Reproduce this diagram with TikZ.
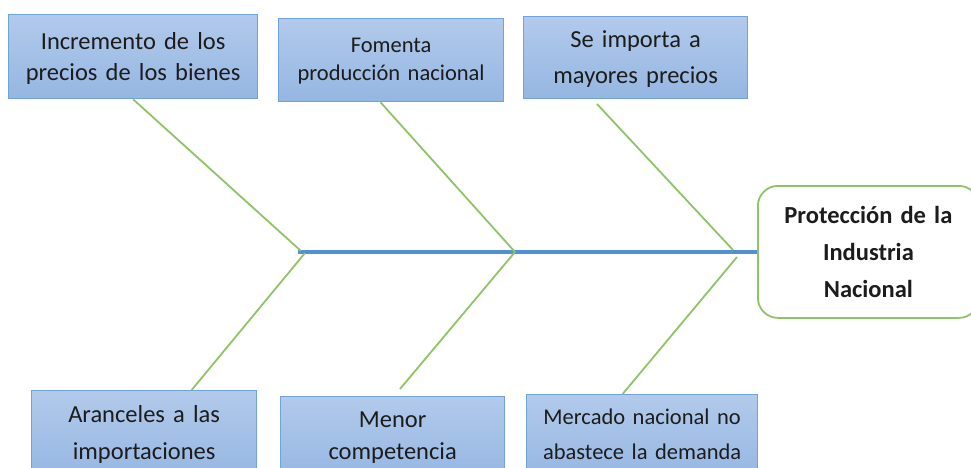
\documentclass[tikz,border=0pt]{standalone}
\usepackage{fontspec}
\setmainfont{Carlito}
\usetikzlibrary{calc}
\definecolor{boxtop}{RGB}{178,202,235}
\definecolor{boxbot}{RGB}{149,182,226}
\definecolor{boxedge}{RGB}{112,163,220}
\definecolor{bone}{RGB}{142,196,102}
\definecolor{spinecol}{RGB}{84,142,212}
\definecolor{txt}{RGB}{28,28,28}
\tikzset{
  causebox/.style={draw=boxedge, line width=1.3pt, top color=boxtop, bottom color=boxbot,
    inner sep=0pt, anchor=north west, align=center, text=txt, text height=0pt},
  effectbox/.style={draw=bone, line width=1.8pt, fill=white, rounded corners=20pt,
    inner sep=0pt, anchor=north west, align=center, text=txt, text height=0pt},
  boneline/.style={draw=bone, line width=1.8pt},
  spineline/.style={draw=spinecol, line width=3.2pt}
}
\begin{document}
\begin{tikzpicture}[x=1pt,y=-1pt]
\useasboundingbox (0,0) rectangle (971,468);
\clip (0,0) rectangle (971,468);
% top causes
\node[causebox, minimum width=249pt, minimum height=84pt, text width=249pt, text depth=14pt,
  font=\fontsize{24.5}{31}\selectfont] (t1) at (8,14) {Incremento de los\\precios de los bienes};
\node[causebox, minimum width=225pt, minimum height=83pt, text width=225pt, text depth=15pt,
  font=\fontsize{22.5}{28}\selectfont] (t2) at (278,18) {Fomenta\\producción nacional};
\node[causebox, minimum width=224pt, minimum height=82pt, text width=224pt, text depth=20pt,
  font=\fontsize{24.5}{36}\selectfont] (t3) at (523,16) {Se importa a\\mayores precios};
% bottom causes
\node[causebox, minimum width=225pt, minimum height=90pt, text width=225pt, text depth=26pt,
  font=\fontsize{24.5}{37}\selectfont] (b1) at (31,390) {Aranceles a las\\importaciones};
\node[causebox, minimum width=224pt, minimum height=84pt, text width=224pt, text depth=22pt,
  font=\fontsize{24.5}{32}\selectfont] (b2) at (280,396) {Menor\\competencia};
\node[causebox, minimum width=231pt, minimum height=86pt, text width=231pt, text depth=26pt,
  font=\fontsize{22.5}{35}\selectfont] (b3) at (526,394) {Mercado nacional no\\abastece la demanda};
% effect
\node[effectbox, minimum width=221pt, minimum height=132pt, text width=221pt, text depth=56pt,
  font=\bfseries\fontsize{24.5}{37}\selectfont] (R) at (757,185) {Protección de la\\Industria\\Nacional};
% joints
\coordinate (s0) at (298,252);
\coordinate (k1t) at (301,251);
\coordinate (k1b) at (305,253);
\coordinate (k2) at (515,252);
\coordinate (k3t) at (733,250);
\coordinate (k3b) at (737,257);
\coordinate (a3) at (597,104);
\coordinate (a5) at (400,389);
% spine
\draw[spineline] (s0) -- (R.west |- s0);
% bones
\draw[boneline] (t1.south) -- (k1t);
\draw[boneline] ($(t2.south west)!0.453!(t2.south east)$) -- (k2);
\draw[boneline] (a3) -- (k3t);
\draw[boneline] (k1b) -- ($(b1.north west)!0.71!(b1.north east)$);
\draw[boneline] (k2) -- (a5);
\draw[boneline] (k3b) -- ($(b3.north west)!0.416!(b3.north east)$);
\end{tikzpicture}
\end{document}
